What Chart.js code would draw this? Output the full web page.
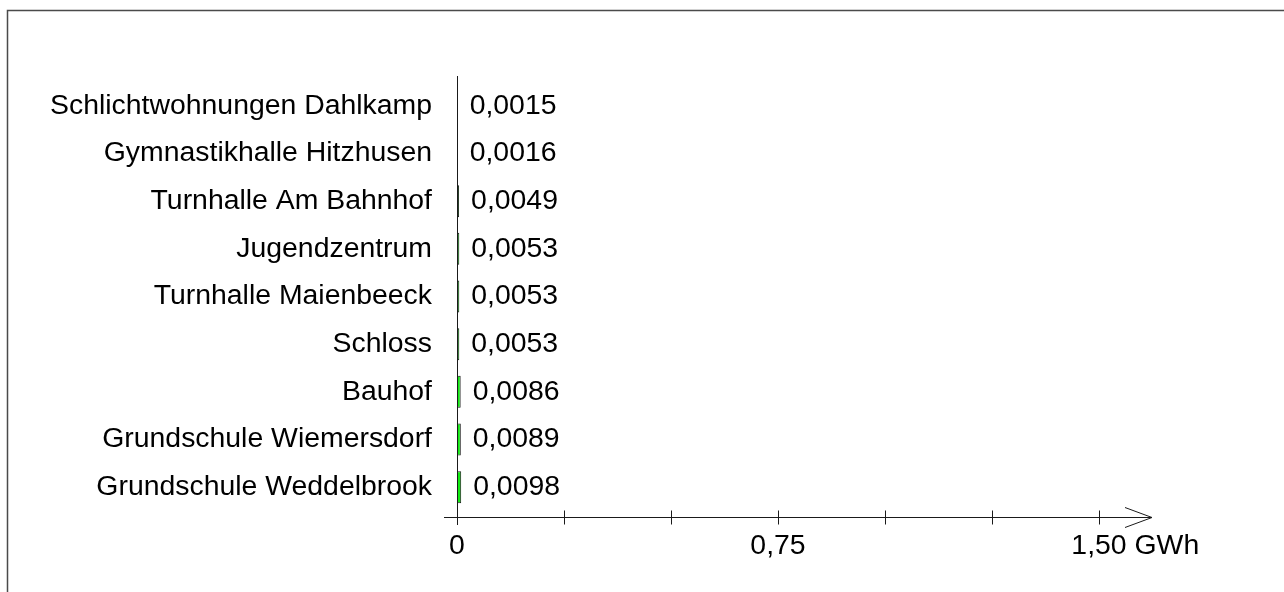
<!DOCTYPE html>
<html><head><meta charset="utf-8">
<script src="https://cdn.jsdelivr.net/npm/chart.js@4"></script>
<style>html,body{margin:0;padding:0;background:#fff}canvas{display:block}</style>
</head><body>
<canvas id="c" width="1284" height="592"></canvas>
<script>
const categories = [
  'Schlichtwohnungen Dahlkamp',
  'Gymnastikhalle Hitzhusen',
  'Turnhalle Am Bahnhof',
  'Jugendzentrum',
  'Turnhalle Maienbeeck',
  'Schloss',
  'Bauhof',
  'Grundschule Wiemersdorf',
  'Grundschule Weddelbrook'
];
const values = [0.0015, 0.0016, 0.0049, 0.0053, 0.0053, 0.0053, 0.0086, 0.0089, 0.0098];
const axisTicks = [0, 0.25, 0.5, 0.75, 1.0, 1.25, 1.5];
const axisTickLabels = ['0', '', '', '0,75', '', '', '1,50'];
const axisUnit = 'GWh';

const FONT = '"Liberation Sans", Arial, sans-serif';
const FSIZE = 28.4;

const decor = {
  id: 'decor',
  afterDraw(chart) {
    const ctx = chart.ctx;
    const xs = chart.scales.x;
    ctx.save();
    // frame
    ctx.strokeStyle = '#4a4a4a';
    ctx.lineWidth = 1.5;
    ctx.beginPath();
    ctx.moveTo(7.5, 592);
    ctx.lineTo(7.5, 10.5);
    ctx.lineTo(1284, 10.5);
    ctx.stroke();

    const x0 = Math.round(xs.getPixelForValue(0)) + 0.5;
    const axisY = 517.5;
    ctx.strokeStyle = '#1a1a1a';
    ctx.lineWidth = 1;
    // vertical axis
    ctx.beginPath();
    ctx.moveTo(x0, 76);
    ctx.lineTo(x0, 525);
    ctx.stroke();
    // horizontal axis with arrow
    const tip = 1152;
    ctx.beginPath();
    ctx.moveTo(444, axisY);
    ctx.lineTo(tip, axisY);
    ctx.moveTo(tip - 27, axisY - 10);
    ctx.lineTo(tip, axisY);
    ctx.lineTo(tip - 27, axisY + 10);
    ctx.stroke();
    // ticks
    ctx.beginPath();
    axisTicks.forEach(v => {
      const px = Math.round(xs.getPixelForValue(v)) + 0.5;
      ctx.moveTo(px, axisY - 7);
      ctx.lineTo(px, axisY + 7);
    });
    ctx.stroke();
    // tick labels
    ctx.fillStyle = '#000';
    ctx.font = FSIZE + 'px ' + FONT;
    ctx.textBaseline = 'middle';
    ctx.textAlign = 'left';
    axisTicks.forEach((v, i) => {
      const lab = axisTickLabels[i];
      if (!lab) return;
      const px = xs.getPixelForValue(v);
      const w = ctx.measureText(lab).width;
      const txt = (i === axisTicks.length - 1) ? lab + ' ' + axisUnit : lab;
      ctx.fillText(txt, px - w / 2, 546);
    });
    // value labels
    const meta = chart.getDatasetMeta(0);
    meta.data.forEach((bar, i) => {
      const txt = values[i].toFixed(4).replace('.', ',');
      ctx.fillText(txt, bar.x + 12, bar.y);
    });
    ctx.restore();
  }
};

new Chart(document.getElementById('c'), {
  type: 'bar',
  data: {
    labels: categories,
    datasets: [{
      data: values,
      backgroundColor: '#12ec12',
      borderColor: '#1a1a1a',
      borderWidth: 1,
      barPercentage: 0.67,
      categoryPercentage: 1
    }]
  },
  options: {
    indexAxis: 'y',
    responsive: false,
    animation: false,
    devicePixelRatio: 1,
    layout: { padding: { left: 0, top: 82, right: 185, bottom: 81 } },
    plugins: { legend: { display: false }, tooltip: { enabled: false } },
    scales: {
      x: { display: false, min: 0, max: 1.5 },
      y: {
        position: 'left',
        grid: { display: false, drawTicks: false },
        border: { display: false },
        ticks: { color: '#000', font: { family: FONT, size: FSIZE }, padding: 25 },
        afterFit(s) { s.width = 457; }
      }
    }
  },
  plugins: [decor]
});
</script>
</body></html>
